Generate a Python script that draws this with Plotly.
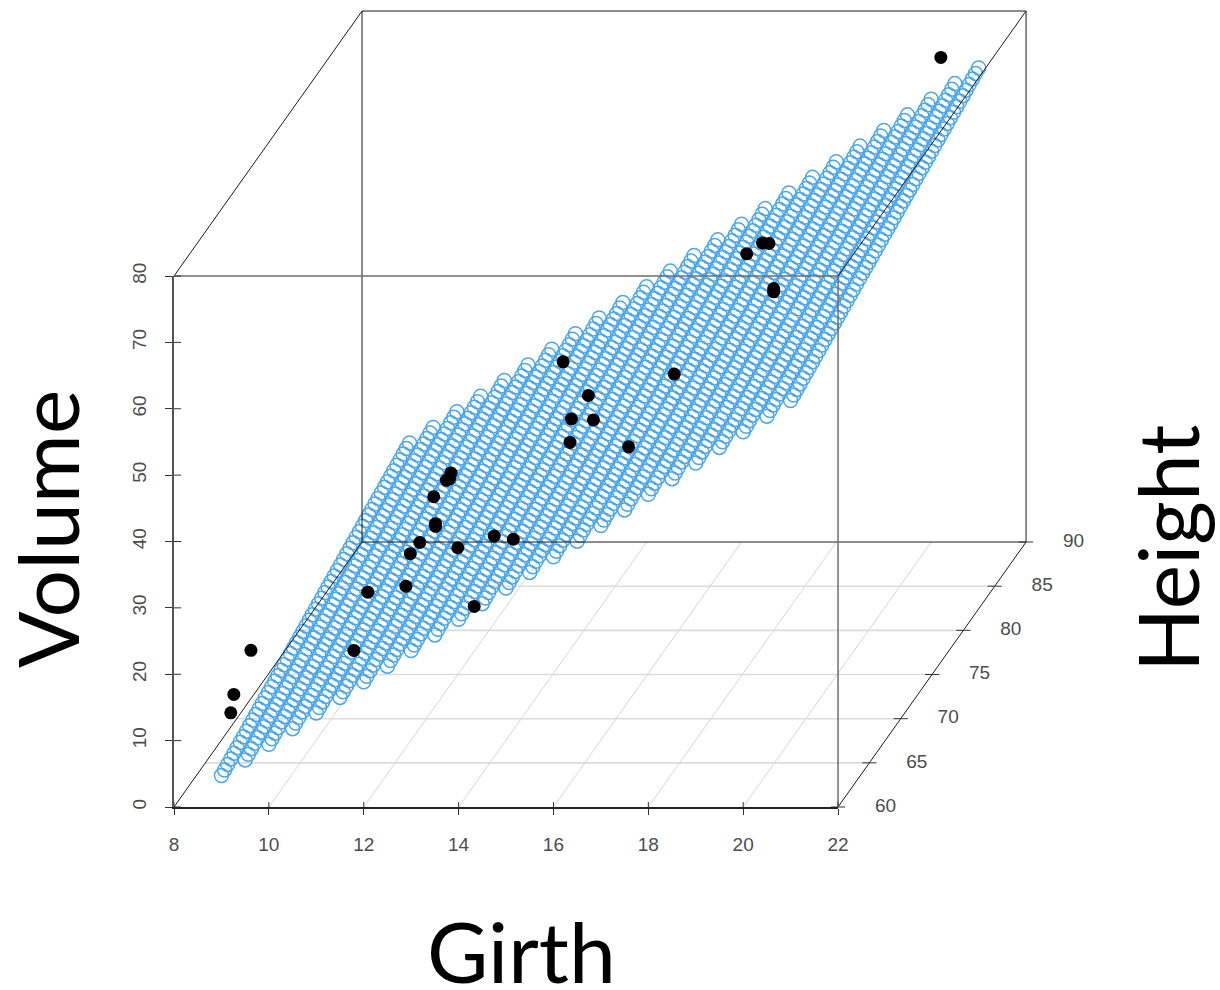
import numpy as np
import plotly.graph_objects as go

girth = [8.3, 8.6, 8.8, 10.5, 10.7, 10.8, 11.0, 11.0, 11.1, 11.2, 11.3, 11.4, 11.4, 11.7, 12.0, 12.9,
         12.9, 13.3, 13.7, 13.8, 14.0, 14.2, 14.5, 16.0, 16.3, 17.3, 17.5, 17.9, 18.0, 18.0, 20.6]
height = [70, 65, 63, 72, 81, 83, 66, 75, 80, 75, 79, 76, 76, 69, 75, 74,
          85, 86, 71, 64, 78, 80, 74, 72, 77, 81, 82, 80, 80, 80, 87]
volume = [10.3, 10.3, 10.2, 16.4, 18.8, 19.7, 15.6, 18.2, 22.6, 19.9, 24.2, 21.0, 21.4, 21.3, 19.1, 22.2,
          33.8, 27.4, 25.7, 24.9, 34.5, 31.7, 36.3, 38.3, 42.6, 55.4, 55.7, 58.3, 51.5, 51.0, 77.0]

# Grid on which the blue regression surface is drawn
surface_girth = [9, 9.5, 10, 10.5, 11, 11.5, 12, 12.5, 13, 13.5, 14, 14.5, 15, 15.5, 16, 16.5,
                 17, 17.5, 18, 18.5, 19, 19.5, 20, 20.5, 21]
surface_height = [60, 60.5, 61, 61.5, 62, 62.5, 63, 63.5, 64, 64.5, 65, 65.5, 66, 66.5, 67, 67.5,
                  68, 68.5, 69, 69.5, 70, 70.5, 71, 71.5, 72, 72.5, 73, 73.5, 74, 74.5, 75,
                  75.5, 76, 76.5, 77, 77.5, 78, 78.5, 79, 79.5, 80, 80.5, 81, 81.5, 82, 82.5,
                  83, 83.5, 84, 84.5, 85, 85.5, 86, 86.5, 87, 87.5, 88, 88.5, 89, 89.5, 90]

girth_ticks = [8, 10, 12, 14, 16, 18, 20, 22]
height_ticks = [60, 65, 70, 75, 80, 85, 90]
volume_ticks = [0, 10, 20, 30, 40, 50, 60, 70, 80]

# Oblique view: how far the back of the box is shifted, in girth and volume units
SHIFT_X, SHIFT_Y = 3.964, 39.92
G0, G1, H0, H1, V0, V1 = 8, 22, 60, 90, 0, 80
LABEL_GAP = 1.0
TICK_X, TICK_Y = 0.15, 1.0


def project(g, h, v):
    t = (np.asarray(h, float) - H0) / (H1 - H0)
    return np.asarray(g, float) + t * SHIFT_X, np.asarray(v, float) + t * SHIFT_Y


def segments(pairs):
    xs, ys = [], []
    for a, b in pairs:
        p, q = project(*a), project(*b)
        xs += [float(p[0]), float(q[0]), None]
        ys += [float(p[1]), float(q[1]), None]
    return xs, ys


# The blue surface is the least-squares plane Volume ~ Girth + Height of the points above,
# which is what the reference plots; it is fitted here rather than read cell by cell.
design = np.column_stack([np.ones(len(girth)), girth, height])
coef = np.linalg.lstsq(design, np.asarray(volume), rcond=None)[0]
gg, hh = np.meshgrid(surface_girth, surface_height, indexing="ij")
vv = coef[0] + coef[1] * gg + coef[2] * hh
sx, sy = project(gg.ravel(), hh.ravel(), vv.ravel())

fig = go.Figure()


def add_lines(pairs, color, width):
    xs, ys = segments(pairs)
    fig.add_trace(go.Scatter(x=xs, y=ys, mode="lines", line=dict(color=color, width=width),
                             hoverinfo="skip", showlegend=False))


# Floor grid
add_lines([((G0, h, V0), (G1, h, V0)) for h in height_ticks[1:-1]], "#dcdcdc", 1.6)
add_lines([((g, H0, V0), (g, H1, V0)) for g in girth_ticks[1:-1]], "#d6d6d6", 1)

# Surface
fig.add_trace(go.Scatter(x=sx, y=sy, mode="markers",
                         marker=dict(symbol="circle-open", size=14, color="#4BA6EC",
                                     line=dict(width=1.5, color="#4BA6EC"), maxdisplayed=0),
                         name="fit", showlegend=False))

# Box
add_lines([((G0, H0, V0), (G0, H1, V0)), ((G1, H0, V0), (G1, H1, V0)),
           ((G0, H0, V1), (G0, H1, V1)), ((G1, H0, V1), (G1, H1, V1)),
           ((G0, H1, V0), (G1, H1, V0)), ((G0, H1, V1), (G1, H1, V1)),
           ((G0, H1, V0), (G0, H1, V1)), ((G1, H1, V0), (G1, H1, V1))], "#1a1a1a", 1)
add_lines([((G0, H0, V1), (G1, H0, V1)), ((G1, H0, V0), (G1, H0, V1))], "#6e6e6e", 1.5)

# Inner half of the tick marks, and the height axis ticks
add_lines([((g, H0, V0), (g, H0, V0 + TICK_Y * 0.75)) for g in girth_ticks], "#333333", 1)
add_lines([((G0, H0, v), (G0 + TICK_X, H0, v)) for v in volume_ticks], "#333333", 1)
add_lines([((G1 - TICK_X, h, V0), (G1 + TICK_X, h, V0)) for h in height_ticks], "#333333", 1)

# Height tick labels
lx, ly = project([G1 + LABEL_GAP] * len(height_ticks), height_ticks, [V0] * len(height_ticks))
fig.add_trace(go.Scatter(x=lx, y=ly, mode="text", text=[str(h) for h in height_ticks],
                         textposition="middle center", cliponaxis=False,
                         textfont=dict(family="Liberation Sans", size=19, color="#4d4d4d"),
                         hoverinfo="skip", showlegend=False))

# Observations
px, py = project(girth, height, volume)
fig.add_trace(go.Scatter(x=px, y=py, mode="markers", marker=dict(size=13, color="black"),
                         name="trees", showlegend=False))

# Front-face axes carrying the girth and volume scales
fig.add_trace(go.Scatter(x=[G0], y=[V0], xaxis="x2", yaxis="y2", mode="markers",
                         marker=dict(opacity=0), hoverinfo="skip", showlegend=False))

W, H = 1220, 990
tick_font = dict(family="Liberation Sans", size=19, color="#4d4d4d")
fig.update_layout(
    width=W, height=H, margin=dict(l=0, r=0, t=0, b=0, pad=0, autoexpand=False),
    paper_bgcolor="white", plot_bgcolor="rgba(0,0,0,0)",
    showlegend=False,
    xaxis=dict(visible=False, range=[4.331, 30.053], domain=[0, 1]),
    yaxis=dict(visible=False, range=[-27.57, 121.58], domain=[0, 1]),
    xaxis2=dict(range=[G0, G1], domain=[174 / W, 838 / W], anchor="y2", tickvals=girth_ticks,
                ticks="outside", ticklen=6, tickwidth=1, tickcolor="#333333", showline=True,
                linecolor="#222222", linewidth=1.5, showgrid=False, zeroline=False,
                tickfont=tick_font, ticklabelstandoff=13),
    yaxis2=dict(range=[V0, V1], domain=[1 - 807 / H, 1 - 276 / H], anchor="x2", tickvals=volume_ticks,
                ticks="outside", ticklen=7, tickwidth=1, tickcolor="#333333", showline=True,
                linecolor="#555555", linewidth=1.5, showgrid=False, zeroline=False,
                tickfont=tick_font, tickangle=-90, ticklabelstandoff=12),
    annotations=[
        dict(text="Volume", x=46 / W, y=1 - 529 / H, textangle=-90),
        dict(text="Girth", x=521 / W, y=1 - 950 / H, textangle=0),
        dict(text="Height", x=1166 / W, y=1 - 549 / H, textangle=-90),
    ],
)
fig.update_annotations(xref="paper", yref="paper", showarrow=False, xanchor="center", yanchor="middle",
                       font=dict(family="Lato", size=84, color="black"))

fig.write_html("out.html", config={"displayModeBar": False},
               post_script="document.body.style.margin='0';document.body.style.overflow='hidden';")
